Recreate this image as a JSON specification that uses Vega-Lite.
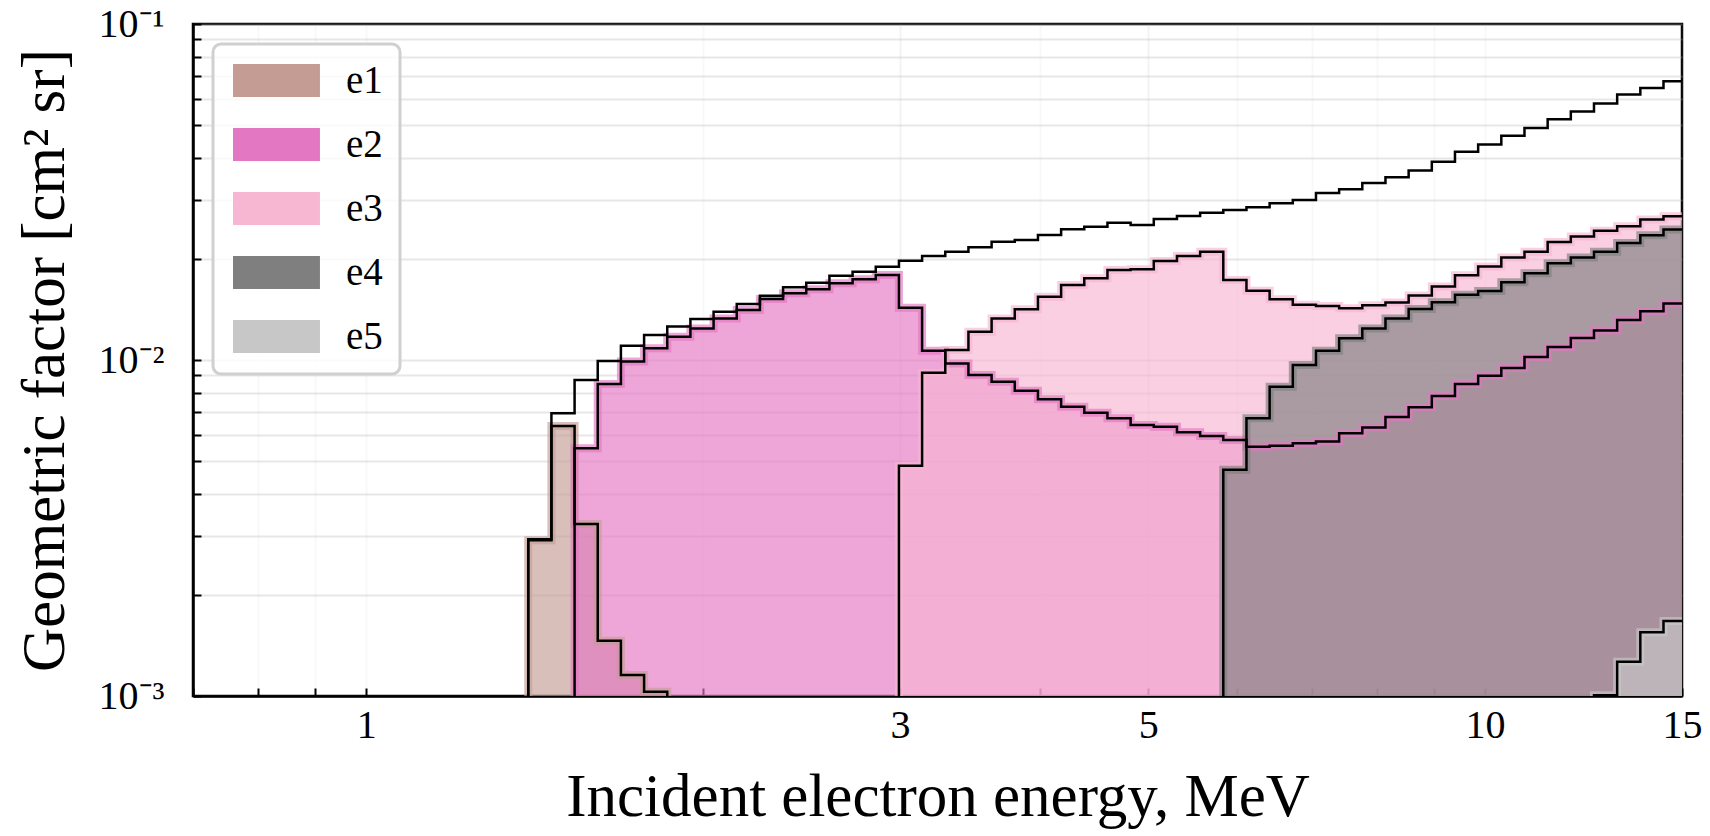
{
  "$schema": "https://vega.github.io/schema/vega-lite/v6.json",
  "width": 1489,
  "height": 672,
  "autosize": {"type": "none"},
  "padding": {"left": 193, "top": 24, "right": 28, "bottom": 140},
  "background": "white",
  "data": {
    "values": [
      {"s":"e1","i":0,"x":1.3956,"y":0.0001},
      {"s":"e1","i":1,"x":1.3956,"y":0.00291},
      {"s":"e1","i":2,"x":1.4638,"y":0.00636},
      {"s":"e1","i":3,"x":1.5353,"y":0.00325},
      {"s":"e1","i":4,"x":1.6102,"y":0.00146},
      {"s":"e1","i":5,"x":1.6889,"y":0.001155},
      {"s":"e1","i":6,"x":1.7714,"y":0.00103},
      {"s":"e1","i":7,"x":1.8579,"y":0.0001},

      {"s":"e2","i":0,"x":1.5353,"y":0.0001},
      {"s":"e2","i":1,"x":1.5353,"y":0.00546},
      {"s":"e2","i":2,"x":1.6102,"y":0.00848},
      {"s":"e2","i":3,"x":1.6889,"y":0.00989},
      {"s":"e2","i":4,"x":1.7714,"y":0.01083},
      {"s":"e2","i":5,"x":1.8579,"y":0.01173},
      {"s":"e2","i":6,"x":1.9486,"y":0.01242},
      {"s":"e2","i":7,"x":2.0438,"y":0.0133},
      {"s":"e2","i":8,"x":2.1436,"y":0.01409},
      {"s":"e2","i":9,"x":2.2483,"y":0.0152},
      {"s":"e2","i":10,"x":2.3581,"y":0.01579},
      {"s":"e2","i":11,"x":2.4733,"y":0.01623},
      {"s":"e2","i":12,"x":2.5941,"y":0.01692},
      {"s":"e2","i":13,"x":2.7208,"y":0.01739},
      {"s":"e2","i":14,"x":2.8537,"y":0.01791},
      {"s":"e2","i":15,"x":2.9931,"y":0.0143},
      {"s":"e2","i":16,"x":3.1393,"y":0.01066},
      {"s":"e2","i":17,"x":3.2926,"y":0.00977},
      {"s":"e2","i":18,"x":3.4534,"y":0.00902},
      {"s":"e2","i":19,"x":3.6221,"y":0.00862},
      {"s":"e2","i":20,"x":3.799,"y":0.0081},
      {"s":"e2","i":21,"x":3.9846,"y":0.00764},
      {"s":"e2","i":22,"x":4.1792,"y":0.00726},
      {"s":"e2","i":23,"x":4.3833,"y":0.00697},
      {"s":"e2","i":24,"x":4.5974,"y":0.00671},
      {"s":"e2","i":25,"x":4.8219,"y":0.00641},
      {"s":"e2","i":26,"x":5.0574,"y":0.00633},
      {"s":"e2","i":27,"x":5.3045,"y":0.00609},
      {"s":"e2","i":28,"x":5.5635,"y":0.00594},
      {"s":"e2","i":29,"x":5.8353,"y":0.00578},
      {"s":"e2","i":30,"x":6.1203,"y":0.00552},
      {"s":"e2","i":31,"x":6.4192,"y":0.00556},
      {"s":"e2","i":32,"x":6.7327,"y":0.00565},
      {"s":"e2","i":33,"x":7.0616,"y":0.00572},
      {"s":"e2","i":34,"x":7.4065,"y":0.00605},
      {"s":"e2","i":35,"x":7.7682,"y":0.0063},
      {"s":"e2","i":36,"x":8.1476,"y":0.00677},
      {"s":"e2","i":37,"x":8.5456,"y":0.00724},
      {"s":"e2","i":38,"x":8.963,"y":0.00781},
      {"s":"e2","i":39,"x":9.4007,"y":0.00849},
      {"s":"e2","i":40,"x":9.8599,"y":0.00897},
      {"s":"e2","i":41,"x":10.3414,"y":0.00947},
      {"s":"e2","i":42,"x":10.8465,"y":0.0102},
      {"s":"e2","i":43,"x":11.3763,"y":0.01094},
      {"s":"e2","i":44,"x":11.9319,"y":0.01163},
      {"s":"e2","i":45,"x":12.5147,"y":0.01225},
      {"s":"e2","i":46,"x":13.1259,"y":0.01315},
      {"s":"e2","i":47,"x":13.767,"y":0.01397},
      {"s":"e2","i":48,"x":14.4394,"y":0.01472},
      {"s":"e2","i":49,"x":15.1447,"y":0.0001},

      {"s":"e3","i":0,"x":2.9931,"y":0.0001},
      {"s":"e3","i":1,"x":2.9931,"y":0.004845},
      {"s":"e3","i":2,"x":3.1393,"y":0.00917},
      {"s":"e3","i":3,"x":3.2926,"y":0.01071},
      {"s":"e3","i":4,"x":3.4534,"y":0.01214},
      {"s":"e3","i":5,"x":3.6221,"y":0.0133},
      {"s":"e3","i":6,"x":3.799,"y":0.01415},
      {"s":"e3","i":7,"x":3.9846,"y":0.01543},
      {"s":"e3","i":8,"x":4.1792,"y":0.01672},
      {"s":"e3","i":9,"x":4.3833,"y":0.0175},
      {"s":"e3","i":10,"x":4.5974,"y":0.01853},
      {"s":"e3","i":11,"x":4.8219,"y":0.01862},
      {"s":"e3","i":12,"x":5.0574,"y":0.0197},
      {"s":"e3","i":13,"x":5.3045,"y":0.0204},
      {"s":"e3","i":14,"x":5.5635,"y":0.021},
      {"s":"e3","i":15,"x":5.8353,"y":0.0173},
      {"s":"e3","i":16,"x":6.1203,"y":0.01608},
      {"s":"e3","i":17,"x":6.4192,"y":0.01516},
      {"s":"e3","i":18,"x":6.7327,"y":0.0146},
      {"s":"e3","i":19,"x":7.0616,"y":0.01447},
      {"s":"e3","i":20,"x":7.4065,"y":0.01425},
      {"s":"e3","i":21,"x":7.7682,"y":0.01456},
      {"s":"e3","i":22,"x":8.1476,"y":0.01484},
      {"s":"e3","i":23,"x":8.5456,"y":0.01556},
      {"s":"e3","i":24,"x":8.963,"y":0.01654},
      {"s":"e3","i":25,"x":9.4007,"y":0.01786},
      {"s":"e3","i":26,"x":9.8599,"y":0.01898},
      {"s":"e3","i":27,"x":10.3414,"y":0.02018},
      {"s":"e3","i":28,"x":10.8465,"y":0.02099},
      {"s":"e3","i":29,"x":11.3763,"y":0.02245},
      {"s":"e3","i":30,"x":11.9319,"y":0.0233},
      {"s":"e3","i":31,"x":12.5147,"y":0.02424},
      {"s":"e3","i":32,"x":13.1259,"y":0.025},
      {"s":"e3","i":33,"x":13.767,"y":0.02617},
      {"s":"e3","i":34,"x":14.4394,"y":0.0268},
      {"s":"e3","i":35,"x":15.1447,"y":0.0001},

      {"s":"e4","i":0,"x":5.8353,"y":0.0001},
      {"s":"e4","i":1,"x":5.8353,"y":0.00471},
      {"s":"e4","i":2,"x":6.1203,"y":0.00671},
      {"s":"e4","i":3,"x":6.4192,"y":0.00833},
      {"s":"e4","i":4,"x":6.7327,"y":0.00967},
      {"s":"e4","i":5,"x":7.0616,"y":0.01065},
      {"s":"e4","i":6,"x":7.4065,"y":0.0116},
      {"s":"e4","i":7,"x":7.7682,"y":0.0124},
      {"s":"e4","i":8,"x":8.1476,"y":0.0133},
      {"s":"e4","i":9,"x":8.5456,"y":0.01419},
      {"s":"e4","i":10,"x":8.963,"y":0.01486},
      {"s":"e4","i":11,"x":9.4007,"y":0.01565},
      {"s":"e4","i":12,"x":9.8599,"y":0.01604},
      {"s":"e4","i":13,"x":10.3414,"y":0.01705},
      {"s":"e4","i":14,"x":10.8465,"y":0.01813},
      {"s":"e4","i":15,"x":11.3763,"y":0.01939},
      {"s":"e4","i":16,"x":11.9319,"y":0.02018},
      {"s":"e4","i":17,"x":12.5147,"y":0.02099},
      {"s":"e4","i":18,"x":13.1259,"y":0.02231},
      {"s":"e4","i":19,"x":13.767,"y":0.0235},
      {"s":"e4","i":20,"x":14.4394,"y":0.02445},
      {"s":"e4","i":21,"x":15.1447,"y":0.0001},

      {"s":"e5","i":0,"x":12.5147,"y":0.0001},
      {"s":"e5","i":1,"x":12.5147,"y":0.001005},
      {"s":"e5","i":2,"x":13.1259,"y":0.001265},
      {"s":"e5","i":3,"x":13.767,"y":0.001547},
      {"s":"e5","i":4,"x":14.4394,"y":0.001672},
      {"s":"e5","i":5,"x":15.1447,"y":0.0001},

      {"s":"total","i":0,"x":1.3956,"y":0.0001},
      {"s":"total","i":1,"x":1.3956,"y":0.00293},
      {"s":"total","i":2,"x":1.4638,"y":0.00694},
      {"s":"total","i":3,"x":1.5353,"y":0.00872},
      {"s":"total","i":4,"x":1.6102,"y":0.00993},
      {"s":"total","i":5,"x":1.6889,"y":0.01103},
      {"s":"total","i":6,"x":1.7714,"y":0.01187},
      {"s":"total","i":7,"x":1.8579,"y":0.01257},
      {"s":"total","i":8,"x":1.9486,"y":0.01324},
      {"s":"total","i":9,"x":2.0438,"y":0.01392},
      {"s":"total","i":10,"x":2.1436,"y":0.01468},
      {"s":"total","i":11,"x":2.2483,"y":0.01553},
      {"s":"total","i":12,"x":2.3581,"y":0.01646},
      {"s":"total","i":13,"x":2.4733,"y":0.01699},
      {"s":"total","i":14,"x":2.5941,"y":0.01782},
      {"s":"total","i":15,"x":2.7208,"y":0.01832},
      {"s":"total","i":16,"x":2.8537,"y":0.01895},
      {"s":"total","i":17,"x":2.9931,"y":0.01975},
      {"s":"total","i":18,"x":3.1393,"y":0.0204},
      {"s":"total","i":19,"x":3.2926,"y":0.02101},
      {"s":"total","i":20,"x":3.4534,"y":0.02165},
      {"s":"total","i":21,"x":3.6221,"y":0.0225},
      {"s":"total","i":22,"x":3.799,"y":0.02276},
      {"s":"total","i":23,"x":3.9846,"y":0.02355},
      {"s":"total","i":24,"x":4.1792,"y":0.02448},
      {"s":"total","i":25,"x":4.3833,"y":0.02493},
      {"s":"total","i":26,"x":4.5974,"y":0.02562},
      {"s":"total","i":27,"x":4.8219,"y":0.02522},
      {"s":"total","i":28,"x":5.0574,"y":0.02627},
      {"s":"total","i":29,"x":5.3045,"y":0.02682},
      {"s":"total","i":30,"x":5.5635,"y":0.02744},
      {"s":"total","i":31,"x":5.8353,"y":0.02795},
      {"s":"total","i":32,"x":6.1203,"y":0.02847},
      {"s":"total","i":33,"x":6.4192,"y":0.02926},
      {"s":"total","i":34,"x":6.7327,"y":0.02993},
      {"s":"total","i":35,"x":7.0616,"y":0.03143},
      {"s":"total","i":36,"x":7.4065,"y":0.03221},
      {"s":"total","i":37,"x":7.7682,"y":0.03363},
      {"s":"total","i":38,"x":8.1476,"y":0.035},
      {"s":"total","i":39,"x":8.5456,"y":0.03664},
      {"s":"total","i":40,"x":8.963,"y":0.03894},
      {"s":"total","i":41,"x":9.4007,"y":0.04165},
      {"s":"total","i":42,"x":9.8599,"y":0.04376},
      {"s":"total","i":43,"x":10.3414,"y":0.04651},
      {"s":"total","i":44,"x":10.8465,"y":0.049},
      {"s":"total","i":45,"x":11.3763,"y":0.05208},
      {"s":"total","i":46,"x":11.9319,"y":0.05486},
      {"s":"total","i":47,"x":12.5147,"y":0.05795},
      {"s":"total","i":48,"x":13.1259,"y":0.06164},
      {"s":"total","i":49,"x":13.767,"y":0.06453},
      {"s":"total","i":50,"x":14.4394,"y":0.06754},
      {"s":"total","i":51,"x":15.1447,"y":0.0001}
    ]
  },
  "encoding": {
    "x": {
      "field": "x", "type": "quantitative",
      "scale": {"type": "log", "domain": [0.7, 15], "nice": false},
      "axis": {
        "values": [0.7, 0.8, 0.9, 1, 2, 3, 4, 5, 6, 7, 8, 9, 10, 15],
        "format": "~g",
        "labelExpr": "indexof([1,3,5,10,15], datum.value) >= 0 ? datum.label : ''",
        "title": "Incident electron energy, MeV",
        "titlePadding": 22,
        "labelPadding": 17,
        "gridOpacity": {"condition": {"test": "datum.value == 3 || datum.value == 5", "value": 0.5}, "value": 0.3},
        "encode": {"ticks": {"update": {"y2": {"signal": "indexof([1,3,5,10,15], datum.value) >= 0 ? -15 : -8"}}}}
      }
    },
    "y": {
      "field": "y", "type": "quantitative", "stack": null,
      "scale": {"type": "log", "domain": [0.001, 0.1], "nice": false},
      "axis": {
        "values": [0.001, 0.002, 0.003, 0.004, 0.005, 0.006, 0.007, 0.008, 0.009, 0.01, 0.02, 0.03, 0.04, 0.05, 0.06, 0.07, 0.08, 0.09, 0.1],
        "labelExpr": "datum.value == 0.1 ? '10⁻¹' : (datum.value == 0.01 ? '10⁻²' : (datum.value == 0.001 ? '10⁻³' : ''))",
        "title": "Geometric factor [cm² sr]",
        "titlePadding": 22,
        "labelPadding": 37,
        "encode": {"ticks": {"update": {"x2": {"signal": "(datum.value == 0.1 || datum.value == 0.01 || datum.value == 0.001) ? 15 : 8"}}}}
      }
    }
  },
  "layer": [
    {
      "transform": [{"filter": "datum.s != 'total' && datum.i > 0"}],
      "mark": {"type": "area", "interpolate": "step-after", "opacity": 0.65, "clip": true},
      "encoding": {
        "color": {
          "field": "s", "type": "nominal",
          "scale": {"domain": ["e1", "e2", "e3", "e4", "e5"], "range": ["#c49c94", "#e377c2", "#f7b6d2", "#7f7f7f", "#c7c7c7"]},
          "legend": {
            "title": null, "orient": "top-left", "offset": 20,
            "symbolType": "M-1,-1L4.27,-1L4.27,1L-1,1Z",
            "symbolSize": 1089, "symbolOpacity": 1, "symbolStrokeWidth": 0,
            "labelFont": "Liberation Serif", "labelFontSize": 39, "labelOffset": 77, "labelColor": "black",
            "rowPadding": 24, "padding": 17,
            "strokeColor": "#d0d0d0", "cornerRadius": 8, "fillColor": "rgba(255,255,255,0.8)"
          }
        }
      }
    },
    {
      "transform": [{"filter": "datum.s != 'total'"}],
      "mark": {"type": "line", "interpolate": "step-after", "strokeWidth": 8, "opacity": 0.65, "clip": true, "strokeJoin": "miter", "strokeCap": "butt"},
      "encoding": {
        "order": {"field": "i", "type": "quantitative"},
        "stroke": {
          "field": "s", "type": "nominal",
          "scale": {"domain": ["e1", "e2", "e3", "e4", "e5"], "range": ["#c49c94", "#e377c2", "#f7b6d2", "#7f7f7f", "#c7c7c7"]},
          "legend": null
        }
      }
    },
    {
      "mark": {"type": "line", "interpolate": "step-after", "color": "black", "strokeWidth": 2.5, "clip": true, "strokeJoin": "miter", "strokeCap": "butt"},
      "encoding": {
        "order": {"field": "i", "type": "quantitative"},
        "detail": {"field": "s", "type": "nominal"}
      }
    }
  ],
  "config": {
    "font": "Liberation Serif",
    "view": {"stroke": "black", "strokeWidth": 2.5},
    "legend": {"strokeWidth": 3},
    "axis": {
      "zindex": 1,
      "domain": true, "domainColor": "black", "domainWidth": 2.5,
      "grid": true, "gridColor": "#b0b0b0", "gridOpacity": 0.3, "gridWidth": 2,
      "tickSize": -8, "tickColor": "black", "tickWidth": 2,
      "labelFont": "Liberation Serif", "labelFontSize": 40, "labelColor": "black",
      "labelOverlap": false, "labelFlush": false, "labelBound": false,
      "titleFont": "Liberation Serif", "titleFontSize": 61, "titleFontWeight": "normal", "titleColor": "black"
    }
  }
}
